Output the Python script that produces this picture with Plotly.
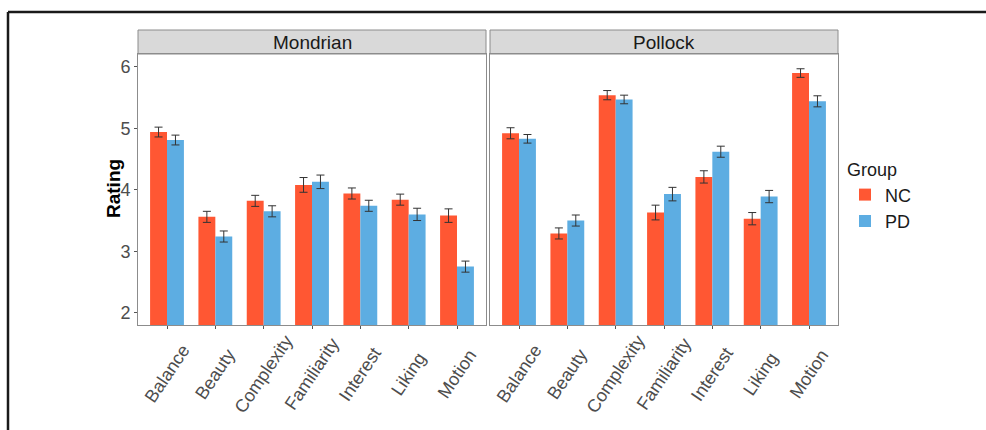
import plotly.graph_objects as go

categories = ["Balance", "Beauty", "Complexity", "Familiarity", "Interest", "Liking", "Motion"]
panels = ["Mondrian", "Pollock"]
groups = ["NC", "PD"]

mondrian_nc = [4.94, 3.56, 3.82, 4.08, 3.94, 3.84, 3.58]
mondrian_nc_err = [0.08, 0.09, 0.09, 0.12, 0.09, 0.09, 0.11]
mondrian_pd = [4.81, 3.24, 3.65, 4.13, 3.74, 3.60, 2.75]
mondrian_pd_err = [0.08, 0.09, 0.09, 0.11, 0.09, 0.10, 0.09]

pollock_nc = [4.92, 3.29, 5.54, 3.63, 4.21, 3.53, 5.90]
pollock_nc_err = [0.09, 0.09, 0.075, 0.12, 0.10, 0.10, 0.07]
pollock_pd = [4.83, 3.50, 5.47, 3.93, 4.62, 3.89, 5.44]
pollock_pd_err = [0.07, 0.09, 0.07, 0.11, 0.09, 0.10, 0.09]

y_ticks = [2, 3, 4, 5, 6]

colors = {"NC": "#FF5733", "PD": "#5DADE2"}

W, H = 986, 430
FONT = "Liberation Sans, Arial, sans-serif"

def px_x(x):
    return x / W

def px_y(y):
    return 1 - y / H

fig = go.Figure()

data = {
    "Mondrian": {"NC": (mondrian_nc, mondrian_nc_err), "PD": (mondrian_pd, mondrian_pd_err)},
    "Pollock": {"NC": (pollock_nc, pollock_nc_err), "PD": (pollock_pd, pollock_pd_err)},
}

for i, panel in enumerate(panels):
    ax = "" if i == 0 else str(i + 1)
    for g in groups:
        vals, errs = data[panel][g]
        fig.add_trace(go.Bar(
            x=categories, y=vals, name=g,
            marker=dict(color=colors[g], line=dict(width=0)),
            error_y=dict(type="data", array=errs, color="#333333", thickness=1, width=4),
            xaxis="x" + ax, yaxis="y" + ax,
            showlegend=(i == 0), legendgroup=g,
        ))

panel_left = [138, 490]
panel_right = [486, 838]
panel_top, panel_bottom = 54, 325
strip_top = 30
xlabel_center_y = 374

axis_common = dict(
    showgrid=False, zeroline=False, showline=True, mirror=True,
    linecolor="#8C8C8C", linewidth=1, automargin=False,
    ticks="outside", ticklen=3, tickcolor="#555555",
)

layout = dict(
    width=W, height=H,
    margin=dict(l=0, r=0, t=0, b=0, autoexpand=False),
    paper_bgcolor="white", plot_bgcolor="white",
    barmode="group", bargap=0.3, bargroupgap=0,
    font=dict(family=FONT),
    legend=dict(
        title=dict(text="Group", font=dict(family=FONT, size=18, color="#1a1a1a")),
        font=dict(family=FONT, size=18, color="#1a1a1a"),
        x=px_x(845), y=px_y(153), xanchor="left", yanchor="top",
        itemwidth=30, tracegroupgap=0, bgcolor="rgba(0,0,0,0)",
    ),
)

for i in range(2):
    ax = "" if i == 0 else str(i + 1)
    layout["xaxis" + ax] = dict(
        axis_common,
        domain=[px_x(panel_left[i]), px_x(panel_right[i])],
        anchor="y" + ax, range=[-0.6, 6.6],
        type="category", showticklabels=False,
    )
    ydict = dict(
        axis_common,
        domain=[px_y(panel_bottom), px_y(panel_top)],
        anchor="x" + ax, range=[1.8, 6.21], tickvals=y_ticks,
        tickfont=dict(family=FONT, size=18, color="#4D4D4D"),
    )
    if i == 1:
        ydict["showticklabels"] = False
        ydict["ticks"] = ""
    layout["yaxis" + ax] = ydict

fig.update_layout(**layout)

# rotated category labels, centred under each tick (as in the reference)
for i in range(2):
    ax = "" if i == 0 else str(i + 1)
    for c in categories:
        fig.add_annotation(text=c, xref="x" + ax, yref="paper",
                           x=c, y=px_y(xlabel_center_y), textangle=-56, showarrow=False,
                           font=dict(family=FONT, size=18, color="#4D4D4D"),
                           xanchor="center", yanchor="middle")

# facet strips
for i, panel in enumerate(panels):
    fig.add_shape(type="rect", xref="paper", yref="paper",
                  x0=px_x(panel_left[i]), x1=px_x(panel_right[i]),
                  y0=px_y(panel_top), y1=px_y(strip_top),
                  fillcolor="#D9D9D9", line=dict(color="#8C8C8C", width=1), layer="below")
    fig.add_annotation(text=panel, xref="paper", yref="paper",
                       x=px_x((panel_left[i] + panel_right[i]) / 2), y=px_y((panel_top + strip_top) / 2),
                       showarrow=False, font=dict(family=FONT, size=19, color="#1a1a1a"),
                       xanchor="center", yanchor="middle")

# y axis title
fig.add_annotation(text="<b>Rating</b>", xref="paper", yref="paper",
                   x=px_x(113), y=px_y(189), textangle=-90, showarrow=False,
                   font=dict(family=FONT, size=19, color="black"),
                   xanchor="center", yanchor="middle")

# outer frame (partially cropped in the reference)
fig.add_shape(type="line", xref="paper", yref="paper",
              x0=px_x(8), x1=1.0, y0=px_y(12), y1=px_y(12),
              line=dict(color="#1a1a1a", width=2.5))
fig.add_shape(type="line", xref="paper", yref="paper",
              x0=px_x(8), x1=px_x(8), y0=px_y(12), y1=0,
              line=dict(color="#1a1a1a", width=2.5))

fig.write_html("out.html", config={"displayModeBar": False},
               post_script="document.body.style.margin='0';document.body.style.overflow='hidden';")
